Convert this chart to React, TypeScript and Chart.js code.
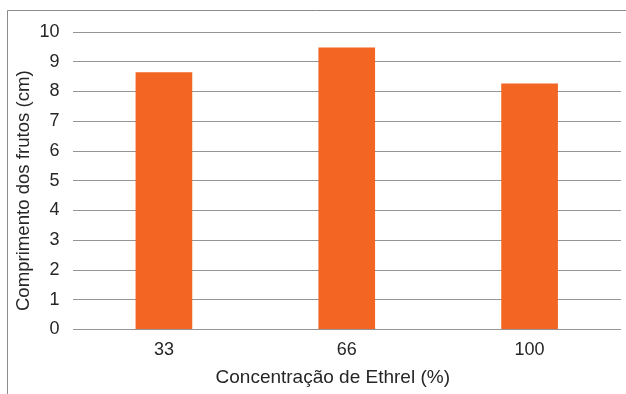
import { useEffect, useRef } from "react";
import { Chart, registerables } from "chart.js";

Chart.register(...registerables);

const categories = ["33", "66", "100"];
const fruitLength = [8.65, 9.48, 8.27];
const yTicks = [0, 1, 2, 3, 4, 5, 6, 7, 8, 9, 10];

const FONT = "'Liberation Sans', Arial, sans-serif";
const TEXT = "#262626";

// Outer frame plus the two axis titles, placed off-centre like the source layout
const framePlugin = {
  id: "frame",
  beforeDraw(chart: any) {
    const ctx = chart.ctx;
    ctx.save();
    ctx.strokeStyle = "#8c8c8c";
    ctx.lineWidth = 1;
    ctx.beginPath();
    ctx.moveTo(7.5, chart.height);
    ctx.lineTo(7.5, 10.5);
    ctx.lineTo(chart.width, 10.5);
    ctx.stroke();
    ctx.restore();
  },
  afterDraw(chart: any) {
    const ctx = chart.ctx;
    const a = chart.chartArea;
    ctx.save();
    ctx.fillStyle = TEXT;
    ctx.textAlign = "center";
    ctx.textBaseline = "middle";
    ctx.font = `19px ${FONT}`;
    ctx.fillText("Concentração de Ethrel (%)", (a.left + a.right) / 2 - 14, 378);
    ctx.font = `18.6px ${FONT}`;
    ctx.translate(24, (a.top + a.bottom) / 2 + 10);
    ctx.rotate(-Math.PI / 2);
    ctx.fillText("Comprimento dos frutos (cm)", 0, 0);
    ctx.restore();
  },
};

export default function App() {
  const ref = useRef<HTMLCanvasElement>(null);

  useEffect(() => {
    if (!ref.current) return;
    const chart = new Chart(ref.current, {
      type: "bar",
      data: {
        labels: categories,
        datasets: [
          {
            data: fruitLength,
            backgroundColor: "#F26522",
            borderWidth: 0,
            categoryPercentage: 1,
            barPercentage: 0.31,
          },
        ],
      },
      options: {
        responsive: false,
        animation: false,
        layout: { padding: { left: 8, right: 5, top: 32, bottom: 0 } },
        plugins: {
          legend: { display: false },
          tooltip: { enabled: false },
        },
        scales: {
          x: {
            grid: { display: false, drawTicks: false },
            border: { display: false },
            ticks: { color: TEXT, font: { family: FONT, size: 18 }, padding: 10 },
            afterFit(scale: any) {
              scale.height = 64.5;
            },
          },
          y: {
            min: 0,
            max: 10,
            afterBuildTicks(scale: any) {
              scale.ticks = yTicks.map((v) => ({ value: v }));
            },
            grid: { color: "#959595", lineWidth: 1, drawTicks: false },
            border: { display: false },
            ticks: { color: TEXT, font: { family: FONT, size: 18 }, padding: 13 },
            afterFit(scale: any) {
              scale.width = 64.5;
            },
          },
        },
      },
      plugins: [framePlugin],
    });
    return () => chart.destroy();
  }, []);

  return (
    <div style={{ position: "fixed", left: 0, top: 0, width: 626, height: 394, background: "#fff" }}>
      <canvas ref={ref} width={626} height={394} />
    </div>
  );
}
